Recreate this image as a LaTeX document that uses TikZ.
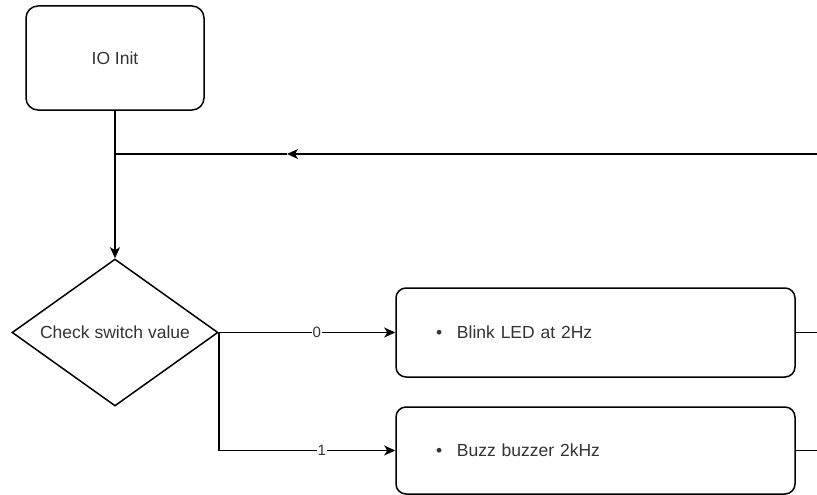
\documentclass[tikz,border=0pt]{standalone}
\usepackage{fontspec}
\setmainfont{Liberation Sans}
\usetikzlibrary{shapes.geometric,arrows.meta}
\definecolor{txt}{HTML}{333333}
\begin{document}
\begin{tikzpicture}[x=1pt,y=-1pt,
  every node/.style={font=\fontsize{17.5}{21}\selectfont, text=txt},
  line/.style={draw=black, line width=1.5pt},
  arr/.style={line, -{Stealth[length=11pt,width=10pt,inset=3pt]}},
  rbox/.style={draw=black, line width=1.5pt, rounded corners=12pt, inner sep=0pt},
  listbox/.style={rbox, rounded corners=10pt, inner xsep=40pt, text width=319pt, align=left},
  lbl/.style={font=\fontsize{15}{18}\selectfont, fill=white, inner sep=1pt}
]
\useasboundingbox (0,0) rectangle (817,495);
\node[rbox, minimum width=178pt, minimum height=104pt] (init) at (115,58) {IO Init};
\node[draw=black, line width=1.5pt, diamond, aspect=1.4, minimum width=206pt, minimum height=147pt, inner sep=0pt] (chk) at (115,332.5) {Check switch value};
\node[listbox, minimum height=89pt] (b1) at (595.5,332.5) {\makebox[21pt][l]{•}Blink LED at 2Hz};
\node[listbox, minimum height=87pt] (b2) at (595.5,450.5) {\makebox[21pt][l]{•}Buzz buzzer 2kHz};
\coordinate (J) at (115,154);
\coordinate (R) at (817,154);
\coordinate (M) at (287,154);
\coordinate (E1) at (817,332.5);
\coordinate (E2) at (817,450.5);
\draw[line] (init.south) -- (J);
\draw[arr] (J) -- (chk.north);
\draw[arr] (R) -- (M);
\draw[line] (M) -- (J);
\draw[arr] (chk.east) -- node[lbl, pos=0.556] {0} (b1.west);
\draw[arr] (chk.east) |- node[lbl, pos=0.792] {1} (b2.west);
\draw[line] (b1.east) -- (E1);
\draw[line] (b2.east) -- (E2);
\end{tikzpicture}
\end{document}
